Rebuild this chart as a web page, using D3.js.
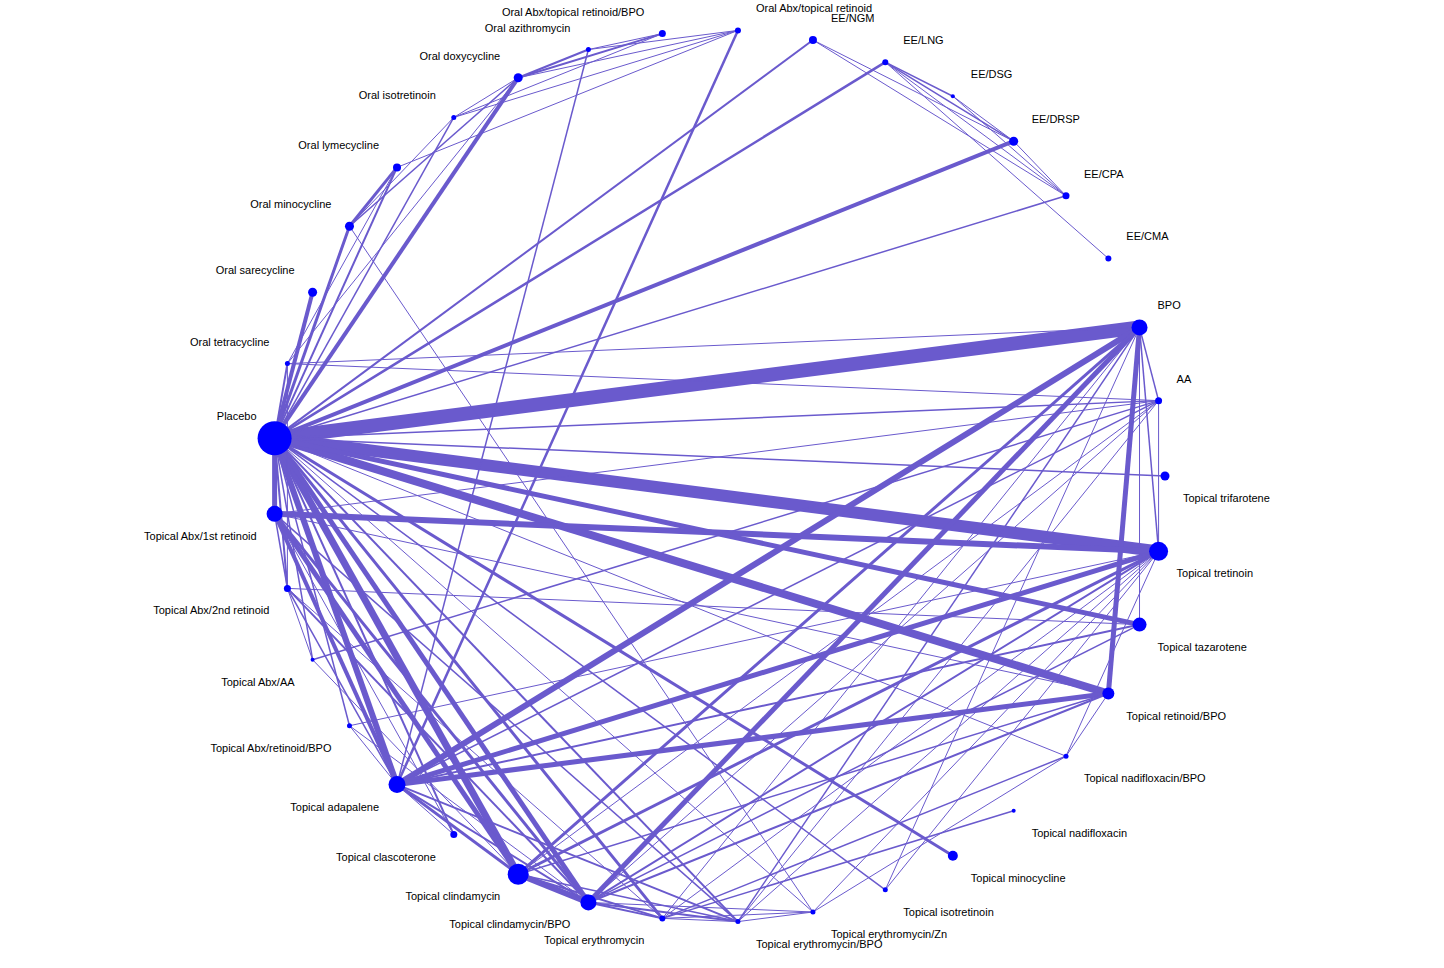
<!DOCTYPE html>
<html>
<head>
<meta charset="utf-8">
<script src="https://cdn.jsdelivr.net/npm/d3@7"></script>
<style>
body { margin: 0; background: #fff; }
text { font-family: "Liberation Sans", Arial, sans-serif; font-size: 11px; fill: #000; }
</style>
</head>
<body>
<svg id="net" width="1444" height="968"></svg>
<script>
// nodes in circle order, starting from Topical trifarotene (3 o'clock), clockwise
var nodeIds = ["trif","tret","taz","retBPO","nadBPO","nad","tmino","tiso","eryZn","eryBPO","ery",
  "clinBPO","clin","clasc","adap","abxRetBPO","abxAA","abx2","abx1","placebo","otet","osare","omino",
  "olyme","oiso","odoxy","oazi","oAbxRetBPO","oAbxRet","eeNGM","eeLNG","eeDSG","eeDRSP","eeCPA","eeCMA","bpo","aa"];
var nodeLabels = ["Topical trifarotene","Topical tretinoin","Topical tazarotene","Topical retinoid/BPO",
  "Topical nadifloxacin/BPO","Topical nadifloxacin","Topical minocycline","Topical isotretinoin",
  "Topical erythromycin/Zn","Topical erythromycin/BPO","Topical erythromycin","Topical clindamycin/BPO",
  "Topical clindamycin","Topical clascoterone","Topical adapalene","Topical Abx/retinoid/BPO","Topical Abx/AA",
  "Topical Abx/2nd retinoid","Topical Abx/1st retinoid","Placebo","Oral tetracycline","Oral sarecycline",
  "Oral minocycline","Oral lymecycline","Oral isotretinoin","Oral doxycycline","Oral azithromycin",
  "Oral Abx/topical retinoid/BPO","Oral Abx/topical retinoid","EE/NGM","EE/LNG","EE/DSG","EE/DRSP",
  "EE/CPA","EE/CMA","BPO","AA"];
var nodeSize = [4.5,9.5,7,6,2.5,2,5,2.5,2.5,2.5,3,8,10.5,3.5,8.5,2.5,2,3.5,8,17,2.5,4.5,4.5,4,2.5,4.5,2.5,3.5,3,4,3,2,4.5,3.5,3,8,3.5];

// edges: source, target, line width
var edges = [
  ["placebo","bpo",14],["placebo","tret",12],["placebo","retBPO",8],["placebo","taz",5],
  ["placebo","adap",6],["placebo","clin",7],["placebo","clinBPO",5],["placebo","ery",3],
  ["placebo","abx1",5],["placebo","abx2",2],["placebo","tmino",3],["placebo","eryBPO",2],
  ["placebo","tiso",1.5],["placebo","nadBPO",1],["placebo","aa",1.5],["placebo","trif",1.5],
  ["placebo","eeDRSP",4],["placebo","eeLNG",2.5],["placebo","eeNGM",2],["placebo","eeCPA",1.5],
  ["placebo","odoxy",4],["placebo","omino",3],["placebo","olyme",2],["placebo","osare",4],
  ["placebo","otet",2],["placebo","oiso",1.5],["placebo","abxAA",1.5],["placebo","abxRetBPO",1.5],
  ["placebo","eryZn",1],["placebo","clasc",2],
  ["oazi","adap",1.5],["oAbxRet","adap",2.5],
  ["odoxy","oazi",2],["odoxy","oAbxRetBPO",2],["odoxy","oAbxRet",1],["oiso","oAbxRet",1],
  ["oiso","oAbxRetBPO",1],["oiso","odoxy",1],["oazi","oAbxRet",1],["oazi","oAbxRetBPO",1],
  ["omino","olyme",3],["omino","odoxy",1.5],["otet","odoxy",1],["otet","olyme",1],["omino","oiso",1],
  ["olyme","oAbxRet",1],["otet","bpo",1],["otet","aa",1],["otet","abx2",1],["omino","eryZn",1],
  ["eeNGM","eeDRSP",1],["eeNGM","eeCPA",1],["eeLNG","eeDSG",1.5],["eeLNG","eeDRSP",1.5],
  ["eeLNG","eeCPA",1],["eeDSG","eeDRSP",1],["eeDSG","eeCPA",1],["eeDRSP","eeCPA",1],["eeLNG","eeCMA",1],
  ["bpo","adap",6],["bpo","clinBPO",5],["bpo","clin",3],["bpo","retBPO",5],["bpo","aa",1.5],
  ["bpo","tret",1.5],["bpo","taz",1],["bpo","eryBPO",1.5],["bpo","ery",1],["bpo","tiso",1],
  ["aa","tret",1],["aa","clinBPO",1],["aa","adap",1.5],["aa","abx1",1],["aa","clin",1],["aa","eryBPO",1],
  ["tret","abx1",6],["tret","adap",5],["tret","clin",3],["tret","clinBPO",2],["tret","ery",1],
  ["tret","eryBPO",1],["tret","eryZn",1],["tret","nadBPO",1],["tret","tiso",1],
  ["taz","adap",2],["taz","clinBPO",1.5],
  ["retBPO","adap",5],["retBPO","clinBPO",2],["retBPO","clin",1.5],["retBPO","abx1",1],["retBPO","nadBPO",1],
  ["nadBPO","eryZn",1],["nadBPO","ery",1.5],["nad","ery",1.5],
  ["clin","clinBPO",6],["clin","ery",2],["clinBPO","ery",2],["clinBPO","eryBPO",2],["ery","eryBPO",1],
  ["eryBPO","eryZn",1],["clinBPO","eryZn",1],["ery","eryZn",1],["clin","eryBPO",1.5],
  ["adap","clin",3],["adap","clinBPO",2],["adap","clasc",1],["adap","eryBPO",2],
  ["abx1","clin",5],["abx1","adap",4],["abx1","clinBPO",3],["abx1","abx2",1.5],["abx1","eryBPO",1.5],
  ["abx1","clasc",1],["abx2","clinBPO",2],["abx2","adap",1.5],["abx2","taz",1],["abx2","abxAA",1],
  ["abxAA","clin",1],["abxAA","aa",1.5],["abxRetBPO","clinBPO",1],["abxRetBPO","adap",1],
  ["abxRetBPO","tret",1],["abx2","ery",1]
];

var cx = 719, cy = 476, R = 446;
var svg = d3.select("#net");

var angle = d3.scaleLinear().domain([0, nodeIds.length]).range([0, 2 * Math.PI]);
var width = d3.scaleLinear().domain([0, 1]).range([0, 1]);

var nodes = nodeIds.map(function (id, i) {
    var a = angle(i);
    return { id: id, label: nodeLabels[i], r: nodeSize[i],
             x: cx + R * Math.cos(a), y: cy + R * Math.sin(a) };
});
var byId = {};
nodes.forEach(function (n) { byId[n.id] = n; });

svg.append("g").selectAll("line")
    .data(edges)
    .enter().append("line")
    .attr("x1", function (d) { return byId[d[0]].x; })
    .attr("y1", function (d) { return byId[d[0]].y; })
    .attr("x2", function (d) { return byId[d[1]].x; })
    .attr("y2", function (d) { return byId[d[1]].y; })
    .attr("stroke", "#6a5acd")
    .attr("stroke-width", function (d) { return width(d[2]); });

svg.append("g").selectAll("circle")
    .data(nodes)
    .enter().append("circle")
    .attr("cx", function (d) { return d.x; })
    .attr("cy", function (d) { return d.y; })
    .attr("r", function (d) { return d.r; })
    .attr("fill", "#0000ff");

svg.append("g").selectAll("text")
    .data(nodes)
    .enter().append("text")
    .attr("x", function (d) { return d.x < cx ? d.x - 18 : d.x + 18; })
    .attr("y", function (d) { return d.y < cy ? d.y - 18 : d.y + 26; })
    .attr("text-anchor", function (d) { return d.x < cx ? "end" : "start"; })
    .text(function (d) { return d.label; });
</script>
</body>
</html>
